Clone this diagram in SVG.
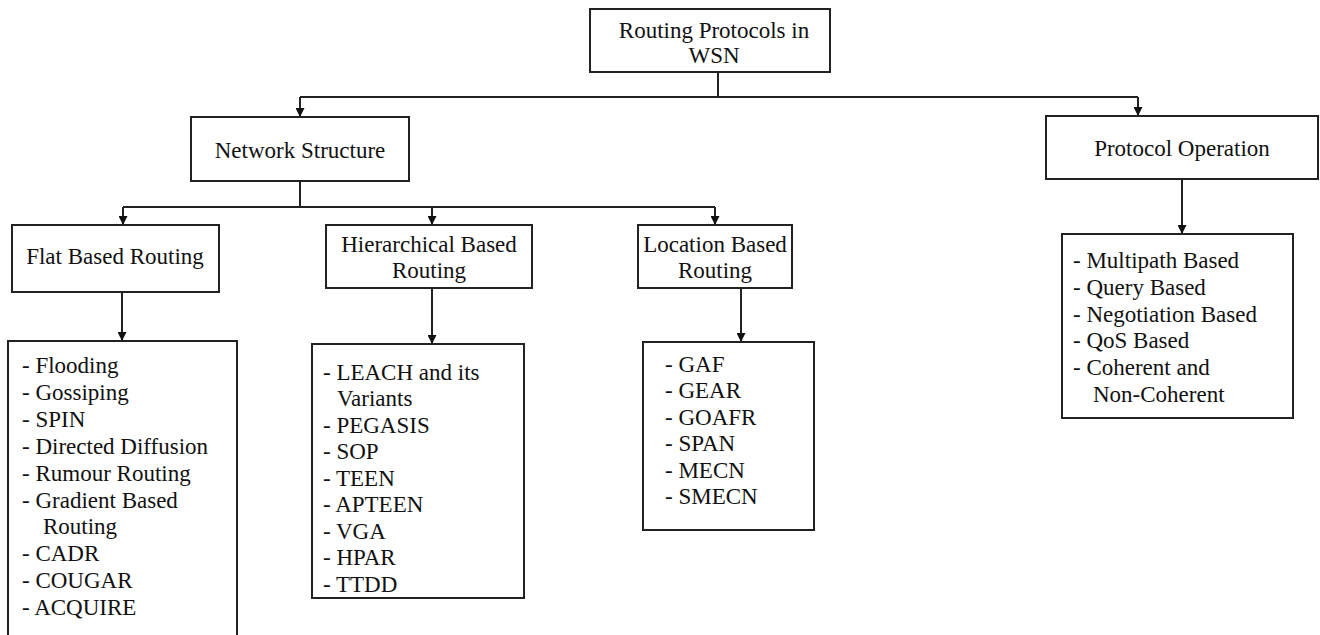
<svg xmlns="http://www.w3.org/2000/svg" width="1320" height="635" viewBox="0 0 1320 635">
<defs>
<marker id="ah" viewBox="0 0 10 10" refX="10" refY="5" markerWidth="9" markerHeight="9" markerUnits="userSpaceOnUse" orient="auto">
<path d="M0,0 L10,5 L0,10 z" fill="#111"/>
</marker>
<style>
.box{fill:#fff;stroke:#222;stroke-width:2}
.ln{fill:none;stroke:#222;stroke-width:2}
.arr{fill:none;stroke:#222;stroke-width:2;marker-end:url(#ah)}
.c{text-anchor:middle}
</style>
</defs>
<rect width="1320" height="635" fill="#fff"/>
<g id="connectors">
<path class="ln" d="M718,72 V97"/>
<path class="ln" d="M300,97 H1138"/>
<path class="arr" d="M300,97 V117"/>
<path class="arr" d="M1138,97 V116"/>
<path class="ln" d="M300,181 V207"/>
<path class="ln" d="M123,207 H715"/>
<path class="arr" d="M123,207 V225"/>
<path class="arr" d="M432,207 V225"/>
<path class="arr" d="M715,207 V225"/>
<path class="arr" d="M122,292 V341"/>
<path class="arr" d="M432,288 V344"/>
<path class="arr" d="M741,288 V342"/>
<path class="arr" d="M1182,179 V234"/>
</g>
<g font-family="Liberation Serif, Times New Roman, DejaVu Serif, serif" font-size="23" fill="#111">
<g id="root">
<rect class="box" x="590" y="9" width="240" height="63"/>
<text class="c" x="714" y="38">Routing Protocols in</text>
<text class="c" x="714" y="63">WSN</text>
</g>
<g id="network-structure">
<rect class="box" x="191" y="117" width="218" height="64"/>
<text class="c" x="300" y="158">Network Structure</text>
</g>
<g id="protocol-operation">
<rect class="box" x="1046" y="116" width="272" height="63"/>
<text class="c" x="1182" y="156">Protocol Operation</text>
</g>
<g id="flat">
<rect class="box" x="12" y="225" width="207" height="67"/>
<text class="c" x="115" y="264">Flat Based Routing</text>
</g>
<g id="hierarchical">
<rect class="box" x="326" y="225" width="206" height="63"/>
<text class="c" x="429" y="252">Hierarchical Based</text>
<text class="c" x="429" y="278">Routing</text>
</g>
<g id="location">
<rect class="box" x="638" y="225" width="154" height="63"/>
<text class="c" x="715" y="252">Location Based</text>
<text class="c" x="715" y="278">Routing</text>
</g>
<g id="flat-list">
<rect class="box" x="8" y="341" width="229" height="300"/>
<text x="22" y="373">- Flooding</text>
<text x="22" y="400">- Gossiping</text>
<text x="22" y="427">- SPIN</text>
<text x="22" y="454">- Directed Diffusion</text>
<text x="22" y="481">- Rumour Routing</text>
<text x="22" y="508">- Gradient Based</text>
<text x="43" y="534">Routing</text>
<text x="22" y="561">- CADR</text>
<text x="22" y="588">- COUGAR</text>
<text x="22" y="615">- ACQUIRE</text>
</g>
<g id="hierarchical-list">
<rect class="box" x="312" y="344" width="212" height="254"/>
<text x="323" y="380">- LEACH and its</text>
<text x="337" y="406">Variants</text>
<text x="323" y="433">- PEGASIS</text>
<text x="323" y="459">- SOP</text>
<text x="323" y="486">- TEEN</text>
<text x="323" y="512">- APTEEN</text>
<text x="323" y="539">- VGA</text>
<text x="323" y="565">- HPAR</text>
<text x="323" y="592">- TTDD</text>
</g>
<g id="location-list">
<rect class="box" x="643" y="342" width="171" height="188"/>
<text x="665" y="372">- GAF</text>
<text x="665" y="398">- GEAR</text>
<text x="665" y="425">- GOAFR</text>
<text x="665" y="451">- SPAN</text>
<text x="665" y="478">- MECN</text>
<text x="665" y="504">- SMECN</text>
</g>
<g id="operation-list">
<rect class="box" x="1062" y="234" width="231" height="184"/>
<text x="1073" y="268">- Multipath Based</text>
<text x="1073" y="295">- Query Based</text>
<text x="1073" y="322">- Negotiation Based</text>
<text x="1073" y="348">- QoS Based</text>
<text x="1073" y="375">- Coherent and</text>
<text x="1093" y="402">Non-Coherent</text>
</g>
</g>
</svg>
